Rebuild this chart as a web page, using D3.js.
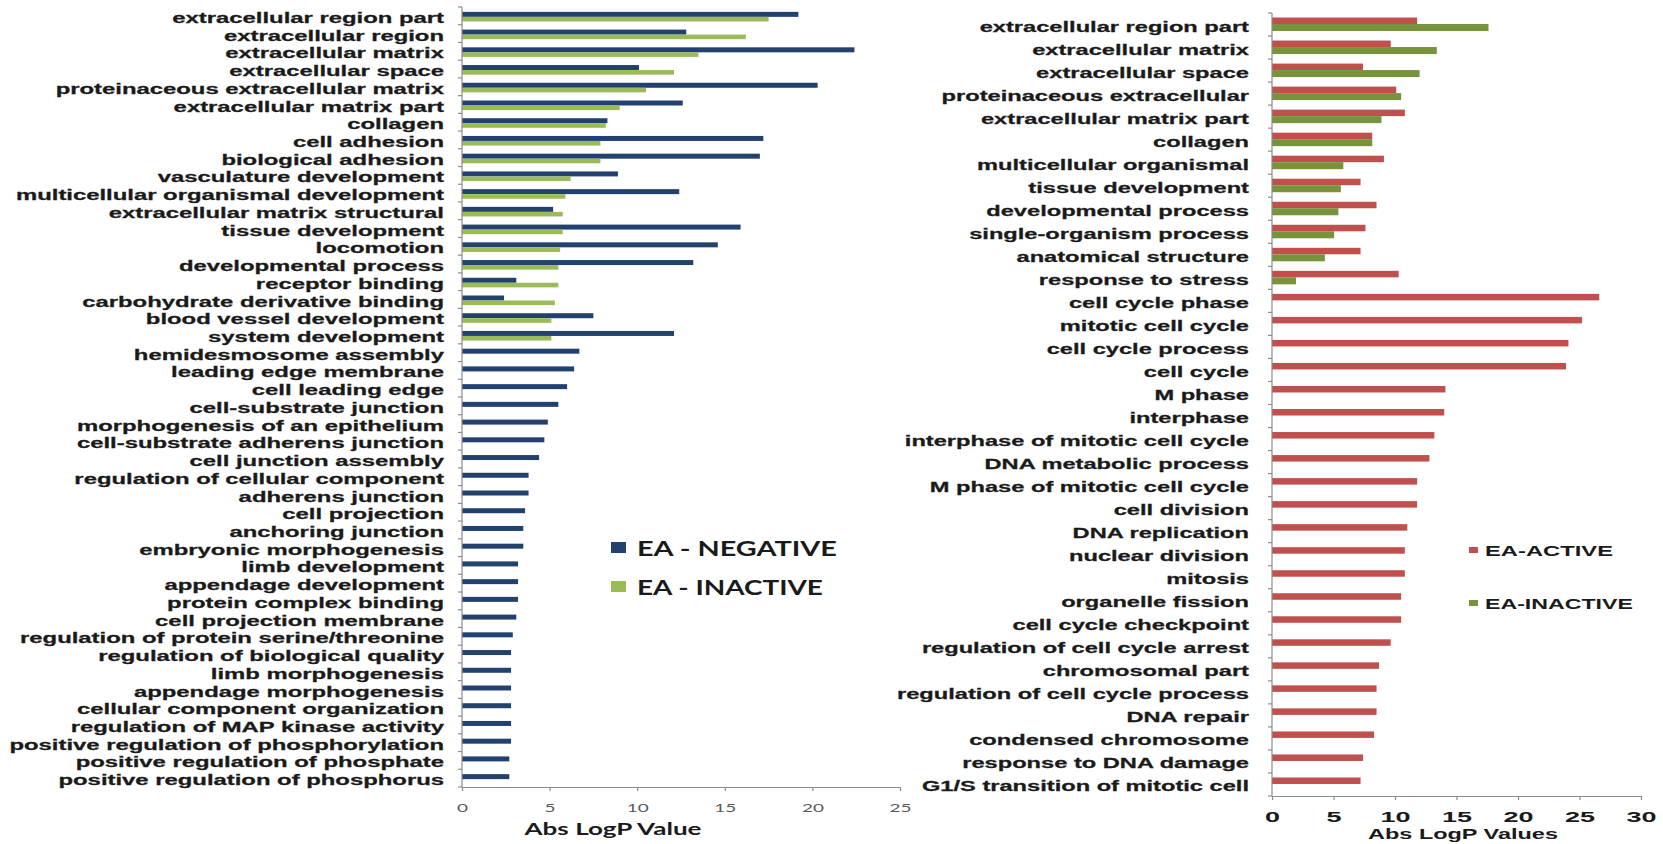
<!DOCTYPE html>
<html><head><meta charset="utf-8">
<script src="https://cdn.jsdelivr.net/npm/d3@7"></script>
<style>html,body{margin:0;padding:0;background:#fff;overflow:hidden}</style>
</head><body>
<svg id="chart" width="1663" height="844"></svg>
<script>
// ---------------- data ----------------
const leftCategories = [
  "extracellular region part","extracellular region","extracellular matrix","extracellular space",
  "proteinaceous extracellular matrix","extracellular matrix part","collagen","cell adhesion",
  "biological adhesion","vasculature development","multicellular organismal development",
  "extracellular matrix structural","tissue development","locomotion","developmental process",
  "receptor binding","carbohydrate derivative binding","blood vessel development","system development",
  "hemidesmosome assembly","leading edge membrane","cell leading edge","cell-substrate junction",
  "morphogenesis of an epithelium","cell-substrate adherens junction","cell junction assembly",
  "regulation of cellular component","adherens junction","cell projection","anchoring junction",
  "embryonic morphogenesis","limb development","appendage development","protein complex binding",
  "cell projection membrane","regulation of protein serine/threonine","regulation of biological quality",
  "limb morphogenesis","appendage morphogenesis","cellular component organization",
  "regulation of MAP kinase activity","positive regulation of phosphorylation",
  "positive regulation of phosphate","positive regulation of phosphorus"
];
const leftNegative = [19.2,12.8,22.4,10.1,20.3,12.6,8.3,17.2,17.0,8.9,12.4,5.2,15.9,14.6,13.2,3.1,2.4,7.5,12.1,
  6.7,6.4,6.0,5.5,4.9,4.7,4.4,3.8,3.8,3.6,3.5,3.5,3.2,3.2,3.2,3.1,2.9,2.8,2.8,2.8,2.8,2.8,2.8,2.7,2.7];
const leftInactive = [17.5,16.2,13.5,12.1,10.5,9.0,8.2,7.9,7.9,6.2,5.9,5.75,5.75,5.6,5.5,5.5,5.3,5.1,5.1];
const leftTicks = [0,5,10,15,20,25];
const leftSeriesNames = ["EA - NEGATIVE","EA - INACTIVE"];

const rightCategories = [
  "extracellular region part","extracellular matrix","extracellular space","proteinaceous extracellular",
  "extracellular matrix part","collagen","multicellular organismal","tissue development",
  "developmental process","single-organism process","anatomical structure","response to stress",
  "cell cycle phase","mitotic cell cycle","cell cycle process","cell cycle","M phase","interphase",
  "interphase of mitotic cell cycle","DNA metabolic process","M phase of mitotic cell cycle",
  "cell division","DNA replication","nuclear division","mitosis","organelle fission",
  "cell cycle checkpoint","regulation of cell cycle arrest","chromosomal part",
  "regulation of cell cycle process","DNA repair","condensed chromosome",
  "response to DNA damage","G1/S transition of mitotic cell"
];
const rightActive = [11.8,9.65,7.4,10.1,10.8,8.15,9.1,7.2,8.5,7.6,7.2,10.3,
  26.6,25.2,24.1,23.9,14.1,14.0,13.2,12.8,11.8,11.8,11.0,10.8,10.8,10.5,10.5,9.65,8.7,8.5,8.5,8.3,7.4,7.2];
const rightInactive = [17.6,13.4,12.0,10.5,8.9,8.15,5.8,5.6,5.4,5.05,4.3,1.95];
const rightTicks = [0,5,10,15,20,25,30];
const rightSeriesNames = ["EA-ACTIVE","EA-INACTIVE"];

// ---------------- drawing ----------------
const svg = d3.select("#chart");
const C = {navy:"#23416f", lgreen:"#9bbb59", red:"#c0504d", dgreen:"#77933c", axis:"#8c8c8c", text:"#1a1a1a"};
const ARIAL = "'Liberation Sans', Arial, sans-serif";
const CAL = "Lato, 'Open Sans', sans-serif";

function stretchTo(sel, target){
  sel.each(function(){
    const w = this.getComputedTextLength();
    const f = w > 0 ? target / w : 1;
    const t = d3.select(this);
    const base = t.attr("data-tr") || "";
    t.attr("transform", base + ` scale(${f},1)`);
  });
}
function stretchBy(sel, f){
  sel.each(function(){
    const t = d3.select(this);
    const base = t.attr("data-tr") || "";
    t.attr("transform", base + ` scale(${f},1)`);
  });
}
function measure(str, font, size, weight){
  const t = svg.append("text").attr("font-family",font).attr("font-size",size).attr("font-weight",weight).text(str);
  const w = t.node().getComputedTextLength(); t.remove(); return w;
}

// ===== LEFT CHART =====
const xL = d3.scaleLinear().domain([0,25]).range([462,900]);
const yL = d3.scaleBand().domain(leftCategories).range([7,787]).padding(0);
const gL = svg.append("g");

const labelFactorL = 272 / measure("extracellular region part", ARIAL, 14, "bold");
const labelFactorR = 269.5 / measure("extracellular region part", ARIAL, 14, "bold");

gL.selectAll("rect.neg").data(leftCategories).join("rect").attr("class","neg")
  .attr("x", xL(0)).attr("y", d => yL(d) + yL.bandwidth()/2 - 4)
  .attr("width", (d,i) => xL(leftNegative[i]) - xL(0)).attr("height", 5).attr("fill", C.navy);
gL.selectAll("rect.inact").data(leftCategories.slice(0, leftInactive.length)).join("rect").attr("class","inact")
  .attr("x", xL(0)).attr("y", d => yL(d) + yL.bandwidth()/2 + 1)
  .attr("width", (d,i) => xL(leftInactive[i]) - xL(0)).attr("height", 4.6).attr("fill", C.lgreen);

gL.append("line").attr("x1", xL(0)).attr("x2", xL(0)).attr("y1", yL.range()[0]).attr("y2", yL.range()[1])
  .attr("stroke", C.axis).attr("stroke-width", 1.2);
gL.selectAll("line.yt").data(leftCategories.map(d => yL(d)).concat([yL.range()[1]])).join("line").attr("class","yt")
  .attr("x1", xL(0) - 4).attr("x2", xL(0)).attr("y1", d => d).attr("y2", d => d)
  .attr("stroke", C.axis).attr("stroke-width", 1.2);

gL.selectAll("text.cat").data(leftCategories).join("text").attr("class","cat")
  .attr("data-tr", d => `translate(444,${yL(d) + yL.bandwidth()/2 + 7})`)
  .attr("text-anchor","end").attr("font-family", ARIAL).attr("font-weight","bold").attr("font-size",14)
  .attr("fill", C.text).attr("stroke", C.text).attr("stroke-width", 0.25).text(d => d)
  .call(stretchBy, labelFactorL);

const axL = gL.append("g").attr("transform", `translate(0,${yL.range()[1]})`)
  .call(d3.axisBottom(xL).tickValues(leftTicks).tickSize(4).tickSizeOuter(0));
axL.select(".domain").attr("stroke", C.axis).attr("stroke-width", 1.2);
axL.selectAll(".tick line").attr("stroke", C.axis).attr("stroke-width", 1.2);
const fTickL = 22 / measure("10", CAL, 12, "normal");
axL.selectAll(".tick text").attr("y", 25).attr("dy", 0).attr("font-family", CAL).attr("font-size", 12)
  .attr("fill", "#5a5a5a").call(stretchBy, fTickL);

gL.append("text").attr("data-tr", "translate(613,835)").attr("text-anchor","middle")
  .attr("font-family", CAL).attr("font-weight","bold").attr("font-size",16.5).attr("fill", C.text)
  .text("Abs LogP Value").call(stretchTo, 177);

const legL = gL.append("g");
const legLData = [{name:leftSeriesNames[0], color:C.navy, y:549, w:200},{name:leftSeriesNames[1], color:C.lgreen, y:588, w:186}];
legL.selectAll("rect").data(legLData).join("rect")
  .attr("x", 611).attr("y", d => d.y - 7).attr("width", 15).attr("height", 11).attr("fill", d => d.color);
legL.selectAll("text").data(legLData).join("text")
  .attr("data-tr", d => `translate(637,${d.y + 7})`).attr("font-family", CAL).attr("font-weight","bold")
  .attr("font-size", 20).attr("fill", C.text).text(d => d.name)
  .each(function(d){ stretchTo(d3.select(this), d.w); });

// ===== RIGHT CHART =====
const xR = d3.scaleLinear().domain([0,30]).range([1272,1641]);
const yR = d3.scaleBand().domain(rightCategories).range([13,796]).padding(0);
const gR = svg.append("g");

gR.selectAll("rect.act").data(rightCategories).join("rect").attr("class","act")
  .attr("x", xR(0)).attr("y", d => yR(d) + yR.bandwidth()/2 - 7)
  .attr("width", (d,i) => xR(rightActive[i]) - xR(0)).attr("height", 6.5).attr("fill", C.red);
gR.selectAll("rect.inact").data(rightCategories.slice(0, rightInactive.length)).join("rect").attr("class","inact")
  .attr("x", xR(0)).attr("y", d => yR(d) + yR.bandwidth()/2 - 0.5)
  .attr("width", (d,i) => xR(rightInactive[i]) - xR(0)).attr("height", 7).attr("fill", C.dgreen);

gR.append("line").attr("x1", xR(0)).attr("x2", xR(0)).attr("y1", yR.range()[0]).attr("y2", yR.range()[1])
  .attr("stroke", C.axis).attr("stroke-width", 1.2);
gR.selectAll("line.yt").data(rightCategories.map(d => yR(d)).concat([yR.range()[1]])).join("line").attr("class","yt")
  .attr("x1", xR(0) - 4).attr("x2", xR(0)).attr("y1", d => d).attr("y2", d => d)
  .attr("stroke", C.axis).attr("stroke-width", 1.2);

gR.selectAll("text.cat").data(rightCategories).join("text").attr("class","cat")
  .attr("data-tr", d => `translate(1249,${yR(d) + yR.bandwidth()/2 + 7})`)
  .attr("text-anchor","end").attr("font-family", ARIAL).attr("font-weight","bold").attr("font-size",14)
  .attr("fill", C.text).attr("stroke", C.text).attr("stroke-width", 0.25).text(d => d)
  .call(stretchBy, labelFactorR);

const axR = gR.append("g").attr("transform", `translate(0,${yR.range()[1]})`)
  .call(d3.axisBottom(xR).tickValues(rightTicks).tickSize(4).tickSizeOuter(0));
axR.select(".domain").attr("stroke", C.axis).attr("stroke-width", 1.2);
axR.selectAll(".tick line").attr("stroke", C.axis).attr("stroke-width", 1.2);
const fTickR = 30 / measure("10", ARIAL, 14, "bold");
axR.selectAll(".tick text").attr("y", 26).attr("dy", 0).attr("font-family", ARIAL).attr("font-weight","bold")
  .attr("font-size", 14).attr("fill", C.text).call(stretchBy, fTickR);

gR.append("text").attr("data-tr", "translate(1463,839)").attr("text-anchor","middle")
  .attr("font-family", ARIAL).attr("font-weight","bold").attr("font-size",15).attr("fill", C.text)
  .text("Abs LogP Values").call(stretchTo, 190);

const legR = gR.append("g");
const legRData = [{name:rightSeriesNames[0], color:C.red, y:550, w:128},{name:rightSeriesNames[1], color:C.dgreen, y:603, w:148}];
legR.selectAll("rect").data(legRData).join("rect")
  .attr("x", 1469).attr("y", d => d.y - 3).attr("width", 9).attr("height", 6).attr("fill", d => d.color);
legR.selectAll("text").data(legRData).join("text")
  .attr("data-tr", d => `translate(1485,${d.y + 5.5})`).attr("font-family", ARIAL).attr("font-weight","bold")
  .attr("font-size", 15).attr("fill", C.text).text(d => d.name)
  .each(function(d){ stretchTo(d3.select(this), d.w); });
</script>
</body></html>
